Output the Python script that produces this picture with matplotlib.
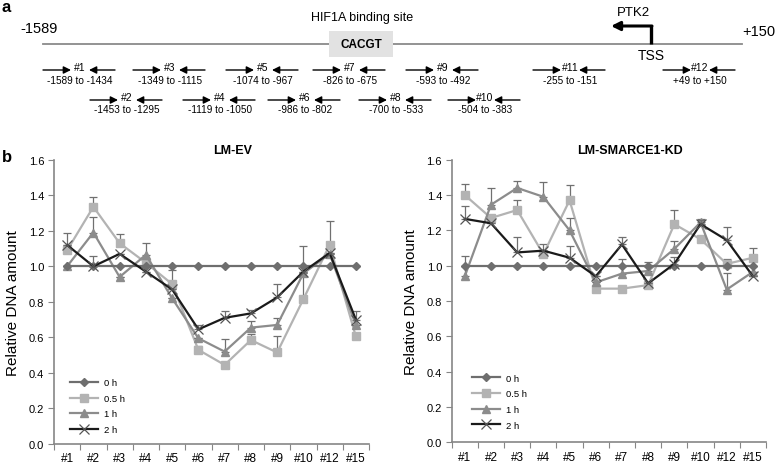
import numpy as np
import matplotlib
matplotlib.use('Agg')
import matplotlib.pyplot as plt
from matplotlib.patches import Rectangle

plt.rcParams['font.family'] = ['Liberation Sans', 'DejaVu Sans']

### ======================================================================
### Data
### ======================================================================

sites = ['#1', '#2', '#3', '#4', '#5', '#6', '#7', '#8', '#9', '#10', '#12', '#15']
times = ['0 h', '0.5 h', '1 h', '2 h']

# LM-EV
ev_0h = [1.0, 1.0, 1.0, 1.0, 1.0, 1.0, 1.0, 1.0, 1.0, 1.0, 1.0, 1.0]
ev_05h = [1.09, 1.335, 1.13, 1.02, 0.90, 0.53, 0.445, 0.585, 0.515, 0.815, 1.12, 0.605]
ev_1h = [1.0, 1.19, 0.94, 1.065, 0.82, 0.595, 0.52, 0.655, 0.67, 0.96, 1.07, 0.67]
ev_2h = [1.12, 1.0, 1.07, 0.97, 0.87, 0.645, 0.71, 0.735, 0.825, 0.97, 1.075, 0.70]
ev_0h_err = [0, 0, 0, 0, 0, 0, 0, 0, 0, 0, 0, 0]
ev_05h_err = [0.095, 0.055, 0.05, 0, 0.08, 0.02, 0, 0.035, 0.09, 0.30, 0.135, 0]
ev_1h_err = [0, 0.09, 0, 0.065, 0, 0, 0.07, 0.035, 0.04, 0, 0, 0]
ev_2h_err = [0, 0.06, 0, 0, 0, 0.025, 0.04, 0.02, 0.075, 0, 0, 0.05]

# LM-SMARCE1-KD
kd_0h = [1.0, 1.0, 1.0, 1.0, 1.0, 1.0, 1.0, 1.0, 1.0, 1.0, 1.0, 1.0]
kd_05h = [1.40, 1.27, 1.315, 1.065, 1.37, 0.87, 0.87, 0.89, 1.235, 1.15, 1.01, 1.045]
kd_1h = [0.94, 1.345, 1.44, 1.39, 1.20, 0.905, 0.955, 0.97, 1.095, 1.245, 0.865, 0.965]
kd_2h = [1.265, 1.24, 1.075, 1.085, 1.045, 0.94, 1.12, 0.90, 1.01, 1.235, 1.145, 0.94]
kd_0h_err = [0, 0, 0, 0, 0, 0, 0, 0, 0, 0, 0, 0]
kd_05h_err = [0.065, 0, 0.055, 0.06, 0.085, 0, 0, 0, 0.08, 0, 0.03, 0.055]
kd_1h_err = [0.115, 0.095, 0.04, 0.085, 0.07, 0, 0.08, 0.05, 0.045, 0.02, 0.095, 0]
kd_2h_err = [0.075, 0, 0.085, 0, 0.065, 0, 0.04, 0, 0.04, 0.025, 0.075, 0]

# primers on the PTK2 promoter
primer_names = ['#1', '#2', '#3', '#4', '#5', '#6', '#7', '#8', '#9', '#10', '#11', '#12']
primer_start = [-1589, -1453, -1349, -1119, -1074, -986, -826, -700, -593, -504, -255, 49]
primer_end = [-1434, -1295, -1115, -1050, -967, -802, -675, -533, -492, -383, -151, 150]

### ======================================================================
### Layout of the schematic (pixel-like units of the top strip)
### ======================================================================

primer_x = [80, 127, 170, 220, 263, 305, 350, 396, 443, 485, 570, 700]
primer_row = [0, 1, 0, 1, 0, 1, 0, 1, 0, 1, 0, 0]
row_arrow_y = [71, 101]
row_text_y = [81, 110]

colors = ['#6e6e6e', '#b3b3b3', '#8c8c8c', '#1a1a1a']
markers = ['D', 's', '^', 'x']
msizes = [4, 5.5, 6, 7]
zorders = [4, 2, 3, 5]


def fmt_pos(v):
    return str(v) if v < 0 else '+' + str(v)


fig = plt.figure(figsize=(7.78, 4.64), dpi=100)

### ---- panel a -----------------------------------------------------------
top_h = 120
ax_a = fig.add_axes([0, 1 - top_h / 464, 1, top_h / 464])
ax_a.set_xlim(0, 778)
ax_a.set_ylim(top_h, 0)
ax_a.axis('off')

ax_a.text(2, 7, 'a', fontsize=12, fontweight='bold', va='center', ha='left')
ax_a.plot([43, 742], [45, 45], color='#8a8a8a', lw=1.3, zorder=1)
ax_a.add_patch(Rectangle((329, 32), 64, 26, facecolor='#e2e2e2', edgecolor='none', zorder=2))
ax_a.text(361, 45, 'CACGT', fontsize=8.5, fontweight='bold', ha='center', va='center', zorder=3)
ax_a.text(362, 18, 'HIF1A binding site', fontsize=9, ha='center', va='center')
ax_a.text(39, 29, fmt_pos(primer_start[0]), fontsize=10.5, ha='center', va='center')
ax_a.text(759, 32, fmt_pos(primer_end[-1]), fontsize=10.5, ha='center', va='center')

# transcription start site
ax_a.plot([651, 651], [45, 27], color='black', lw=2.4, solid_capstyle='butt', zorder=3)
ax_a.annotate('', xy=(611, 27), xytext=(652, 27),
              arrowprops=dict(arrowstyle='-|>', color='black', lw=2.2, mutation_scale=13,
                              shrinkA=0, shrinkB=0))
ax_a.text(633, 13, 'PTK2', fontsize=9.5, ha='center', va='center')
ax_a.text(651, 56, 'TSS', fontsize=10, ha='center', va='center')

for name, s, e, c, r in zip(primer_names, primer_start, primer_end, primer_x, primer_row):
    ya = row_arrow_y[r]
    ax_a.annotate('', xy=(c - 9, ya), xytext=(c - 37, ya),
                  arrowprops=dict(arrowstyle='-|>', color='black', lw=1, mutation_scale=11,
                                  shrinkA=0, shrinkB=0))
    ax_a.annotate('', xy=(c + 9, ya), xytext=(c + 35, ya),
                  arrowprops=dict(arrowstyle='-|>', color='black', lw=1, mutation_scale=11,
                                  shrinkA=0, shrinkB=0))
    ax_a.text(c, ya - 2.5, name, fontsize=7.5, ha='center', va='center')
    ax_a.text(c, row_text_y[r], fmt_pos(s) + ' to ' + fmt_pos(e), fontsize=7.2,
              ha='center', va='center')

### ---- panel b -----------------------------------------------------------
fig.text(2 / 778, 1 - 157 / 464, 'b', fontsize=12, fontweight='bold', va='center', ha='left')


def draw_panel(ax, title, vals, errs, legend_anchor):
    x = np.arange(len(sites))
    for i in range(len(times)):
        ax.errorbar(x, vals[i], yerr=[np.zeros(len(sites)), errs[i]], fmt='none',
                    ecolor='#707070', elinewidth=0.9, capsize=3, capthick=0.9,
                    zorder=zorders[i] - 0.5)
        mec = '#555555' if markers[i] == 'x' else colors[i]
        ax.plot(x, vals[i], color=colors[i], lw=1.6, marker=markers[i], ms=msizes[i],
                mec=mec, mew=0.9 if markers[i] == 'x' else 1, label=times[i],
                zorder=zorders[i])

    ax.set_xlim(-0.5, len(sites) - 0.5)
    ax.set_ylim(0, 1.6)
    ax.set_yticks(np.arange(0, 1.61, 0.2))
    ax.set_yticklabels(['%.1f' % v for v in np.arange(0, 1.61, 0.2)])
    ax.set_xticks(np.arange(-0.5, len(sites)))
    ax.set_xticklabels([])
    ax.set_xticks(x, minor=True)
    ax.set_xticklabels(sites, minor=True)
    ax.tick_params(axis='x', which='minor', length=0, pad=6, labelsize=8.5)
    ax.tick_params(axis='x', which='major', length=4, color='#868686')
    ax.tick_params(axis='y', length=4, color='#868686', labelsize=8, pad=3)
    for side in ['top', 'right']:
        ax.spines[side].set_visible(False)
    for side in ['left', 'bottom']:
        ax.spines[side].set_color('#868686')
        ax.spines[side].set_linewidth(1.2)
    ax.set_ylabel('Relative DNA amount', fontsize=11, labelpad=6)
    ax.set_title(title, fontsize=9, fontweight='bold', x=0.567, pad=5)
    ax.legend(loc='lower left', bbox_to_anchor=legend_anchor, frameon=False, fontsize=6.8,
              handlelength=3.0, handletextpad=0.6, labelspacing=0.7, borderpad=0,
              borderaxespad=0)


ax_l = fig.add_axes([54 / 778, 1 - 445 / 464, 315 / 778, 284.3 / 464])
ax_r = fig.add_axes([451.7 / 778, 1 - 443.3 / 464, 314.3 / 778, 282.6 / 464])

draw_panel(ax_l, 'LM-EV', [ev_0h, ev_05h, ev_1h, ev_2h],
           [ev_0h_err, ev_05h_err, ev_1h_err, ev_2h_err], (0.05, 0.035))
draw_panel(ax_r, 'LM-SMARCE1-KD', [kd_0h, kd_05h, kd_1h, kd_2h],
           [kd_0h_err, kd_05h_err, kd_1h_err, kd_2h_err], (0.063, 0.045))

fig.savefig('out.png', dpi=100)
